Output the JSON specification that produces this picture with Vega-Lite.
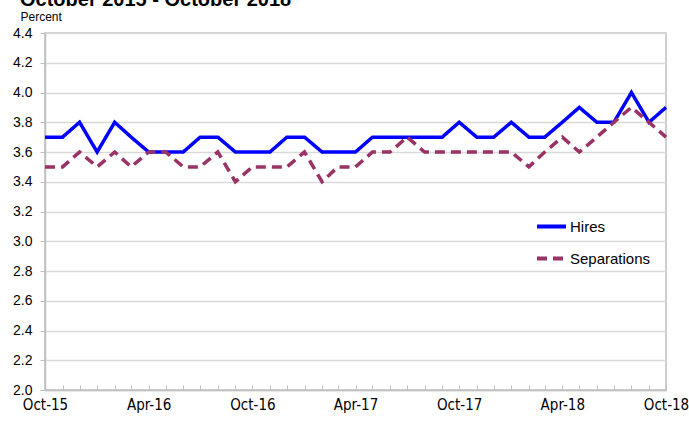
{
  "$schema": "https://vega.github.io/schema/vega-lite/v6.json",
  "width": 621,
  "height": 357,
  "autosize": {"type": "none"},
  "padding": {"left": 45, "top": 33, "right": 23, "bottom": 31},
  "background": "white",
  "title": {
    "text": "October 2015 - October 2018",
    "anchor": "start",
    "frame": "group",
    "orient": "top",
    "dx": -25,
    "dy": 16,
    "offset": 0,
    "font": "Liberation Sans",
    "fontSize": 20,
    "fontWeight": "bold",
    "color": "#000000",
    "baseline": "alphabetic"
  },
  "config": {
    "view": {"stroke": "#bfbfbf", "strokeWidth": 1.5},
    "axis": {"labelFont": "Liberation Sans", "labelColor": "#000000", "titleFont": "Liberation Sans"}
  },
  "data": {
    "values": [
      {"date": "2015-10-01", "Hires": 3.7, "Separations": 3.5},
      {"date": "2015-11-01", "Hires": 3.7, "Separations": 3.5},
      {"date": "2015-12-01", "Hires": 3.8, "Separations": 3.6},
      {"date": "2016-01-01", "Hires": 3.6, "Separations": 3.5},
      {"date": "2016-02-01", "Hires": 3.8, "Separations": 3.6},
      {"date": "2016-03-01", "Hires": 3.7, "Separations": 3.5},
      {"date": "2016-04-01", "Hires": 3.6, "Separations": 3.6},
      {"date": "2016-05-01", "Hires": 3.6, "Separations": 3.6},
      {"date": "2016-06-01", "Hires": 3.6, "Separations": 3.5},
      {"date": "2016-07-01", "Hires": 3.7, "Separations": 3.5},
      {"date": "2016-08-01", "Hires": 3.7, "Separations": 3.6},
      {"date": "2016-09-01", "Hires": 3.6, "Separations": 3.4},
      {"date": "2016-10-01", "Hires": 3.6, "Separations": 3.5},
      {"date": "2016-11-01", "Hires": 3.6, "Separations": 3.5},
      {"date": "2016-12-01", "Hires": 3.7, "Separations": 3.5},
      {"date": "2017-01-01", "Hires": 3.7, "Separations": 3.6},
      {"date": "2017-02-01", "Hires": 3.6, "Separations": 3.4},
      {"date": "2017-03-01", "Hires": 3.6, "Separations": 3.5},
      {"date": "2017-04-01", "Hires": 3.6, "Separations": 3.5},
      {"date": "2017-05-01", "Hires": 3.7, "Separations": 3.6},
      {"date": "2017-06-01", "Hires": 3.7, "Separations": 3.6},
      {"date": "2017-07-01", "Hires": 3.7, "Separations": 3.7},
      {"date": "2017-08-01", "Hires": 3.7, "Separations": 3.6},
      {"date": "2017-09-01", "Hires": 3.7, "Separations": 3.6},
      {"date": "2017-10-01", "Hires": 3.8, "Separations": 3.6},
      {"date": "2017-11-01", "Hires": 3.7, "Separations": 3.6},
      {"date": "2017-12-01", "Hires": 3.7, "Separations": 3.6},
      {"date": "2018-01-01", "Hires": 3.8, "Separations": 3.6},
      {"date": "2018-02-01", "Hires": 3.7, "Separations": 3.5},
      {"date": "2018-03-01", "Hires": 3.7, "Separations": 3.6},
      {"date": "2018-04-01", "Hires": 3.8, "Separations": 3.7},
      {"date": "2018-05-01", "Hires": 3.9, "Separations": 3.6},
      {"date": "2018-06-01", "Hires": 3.8, "Separations": 3.7},
      {"date": "2018-07-01", "Hires": 3.8, "Separations": 3.8},
      {"date": "2018-08-01", "Hires": 4.0, "Separations": 3.9},
      {"date": "2018-09-01", "Hires": 3.8, "Separations": 3.8},
      {"date": "2018-10-01", "Hires": 3.9, "Separations": 3.7}
    ]
  },
  "transform": [
    {"fold": ["Hires", "Separations"], "as": ["series", "value"]}
  ],
  "mark": {"type": "line", "strokeWidth": 3.5, "clip": false},
  "encoding": {
    "x": {
      "field": "date",
      "type": "temporal",
      "scale": {"type": "utc", "nice": false},
      "axis": {
        "title": null,
        "grid": false,
        "domainColor": "#bfbfbf",
        "domainWidth": 1.5,
        "tickColor": "#bfbfbf",
        "tickSize": -5,
        "tickCount": {"interval": "month", "step": 1},
        "labelExpr": "utcmonth(datum.value) % 6 == 3 ? utcFormat(datum.value, '%b-%y') : ''",
        "labelFont": "Liberation Sans Narrow, DejaVu Sans Condensed, Liberation Sans",
        "labelFontSize": 15,
        "labelPadding": 12,
        "labelFlush": false,
        "labelOverlap": false
      }
    },
    "y": {
      "field": "value",
      "type": "quantitative",
      "scale": {"domain": [2.0, 4.4], "nice": false, "zero": false},
      "axis": {
        "values": [2.0, 2.2, 2.4, 2.6, 2.8, 3.0, 3.2, 3.4, 3.6, 3.8, 4.0, 4.2, 4.4],
        "format": ".1f",
        "title": "Percent",
        "titleAngle": 0,
        "titleAlign": "left",
        "titleBaseline": "middle",
        "titleX": -25,
        "titleY": -17,
        "titleFontSize": 12,
        "titleFontWeight": "normal",
        "titleColor": "#000000",
        "grid": true,
        "gridColor": "#d9d9d9",
        "gridWidth": 1.5,
        "domainColor": "#bfbfbf",
        "domainWidth": 1.5,
        "tickColor": "#bfbfbf",
        "tickSize": 5,
        "labelFontSize": 14,
        "labelPadding": 8
      }
    },
    "color": {
      "field": "series",
      "type": "nominal",
      "scale": {"domain": ["Hires", "Separations"], "range": ["#0000ff", "#993366"]},
      "legend": {
        "title": null,
        "orient": "none",
        "legendX": 490,
        "legendY": 177,
        "symbolType": "stroke",
        "symbolSize": 841,
        "symbolStrokeWidth": 4,
        "symbolDash": [11, 5],
        "labelFont": "Liberation Sans",
        "labelFontSize": 15,
        "labelColor": "#000000",
        "rowPadding": 7,
        "labelOffset": 2
      }
    },
    "strokeDash": {
      "field": "series",
      "type": "nominal",
      "scale": {"domain": ["Hires", "Separations"], "range": [[1, 0], [10, 6]]},
      "legend": null
    }
  }
}
